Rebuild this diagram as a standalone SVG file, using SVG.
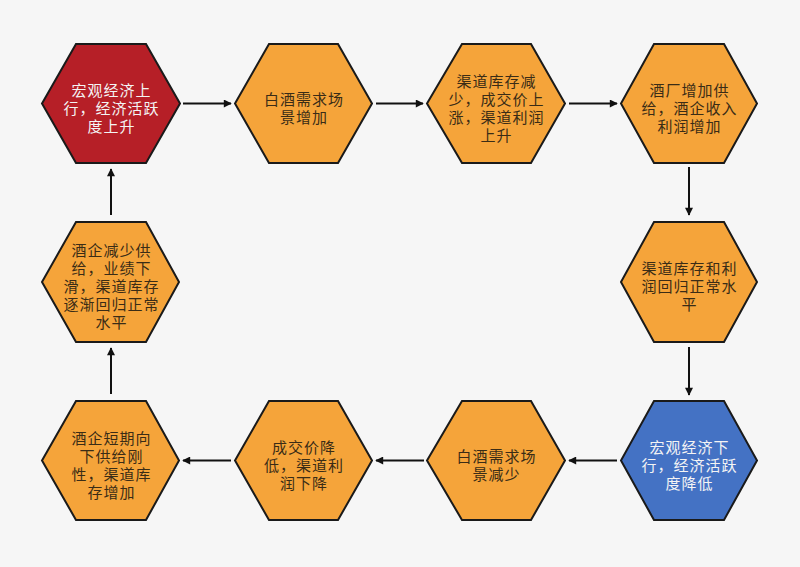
<svg xmlns="http://www.w3.org/2000/svg" width="800" height="567" viewBox="0 0 800 567">
<defs>
<style>
.hex{stroke:#1a1a1a;stroke-width:2;stroke-linejoin:miter}
.or{fill:#F5A43A}
.rd{fill:#B61F27}
.bl{fill:#4472C4}
text{font-family:"Liberation Sans","Noto Sans CJK SC",sans-serif;font-size:15px;letter-spacing:1px;text-anchor:middle;dominant-baseline:central}
.dk{fill:#3a2c16}
.wt{fill:#f4f4f4}
.conn line{stroke:#111;stroke-width:2;marker-end:url(#ah)}
</style>
<marker id="ah" viewBox="0 0 10 10" refX="9" refY="5" markerWidth="4.5" markerHeight="4" orient="auto" markerUnits="strokeWidth">
<path d="M0,0 L10,5 L0,10 z" fill="#111"/>
</marker>
</defs>
<rect width="800" height="567" fill="#F6F6F6"/>
<g class="conn">
<line x1="183" y1="103.5" x2="231" y2="103.5"/>
<line x1="376" y1="103.5" x2="423" y2="103.5"/>
<line x1="569" y1="103.5" x2="617" y2="103.5"/>
<line x1="689" y1="167" x2="689" y2="215"/>
<line x1="689" y1="347" x2="689" y2="395"/>
<line x1="617" y1="460.5" x2="569" y2="460.5"/>
<line x1="424" y1="460.5" x2="376" y2="460.5"/>
<line x1="231" y1="460.5" x2="183" y2="460.5"/>
<line x1="111" y1="394" x2="111" y2="348"/>
<line x1="111" y1="215" x2="111" y2="169"/>
</g>
<g id="n1">
<polygon class="hex rd" points="76,44 146,44 180,103.5 146,163 76,163 42,103.5"/>
<text class="wt" y="89.5"><tspan x="111.5">宏观经济上</tspan><tspan x="111.5" dy="18">行，经济活跃</tspan><tspan x="111.5" dy="18">度上升</tspan></text>
</g>
<g id="n2">
<polygon class="hex or" points="269,44 338,44 372,103.5 338,163 269,163 235,103.5"/>
<text class="dk" y="98.5"><tspan x="304">白酒需求场</tspan><tspan x="304" dy="18">景增加</tspan></text>
</g>
<g id="n3">
<polygon class="hex or" points="462,44 531,44 565,103.5 531,163 462,163 427,103.5"/>
<text class="dk" y="80.5"><tspan x="496.5">渠道库存减</tspan><tspan x="496.5" dy="18">少，成交价上</tspan><tspan x="496.5" dy="18">涨，渠道利润</tspan><tspan x="496.5" dy="18">上升</tspan></text>
</g>
<g id="n4">
<polygon class="hex or" points="654,44 724,44 757,103.5 724,163 654,163 621,103.5"/>
<text class="dk" y="89.5"><tspan x="689.5">酒厂增加供</tspan><tspan x="689.5" dy="18">给，酒企收入</tspan><tspan x="689.5" dy="18">利润增加</tspan></text>
</g>
<g id="n5">
<polygon class="hex or" points="654,222 724,222 757,282 724,342 654,342 621,282"/>
<text class="dk" y="268"><tspan x="689.5">渠道库存和利</tspan><tspan x="689.5" dy="18">润回归正常水</tspan><tspan x="689.5" dy="18">平</tspan></text>
</g>
<g id="n6">
<polygon class="hex bl" points="654,401 724,401 757,460.5 724,520 654,520 621,460.5"/>
<text class="wt" y="446.5"><tspan x="689.5">宏观经济下</tspan><tspan x="689.5" dy="18">行，经济活跃</tspan><tspan x="689.5" dy="18">度降低</tspan></text>
</g>
<g id="n7">
<polygon class="hex or" points="462,401 531,401 565,460.5 531,520 462,520 427,460.5"/>
<text class="dk" y="455.5"><tspan x="496.5">白酒需求场</tspan><tspan x="496.5" dy="18">景减少</tspan></text>
</g>
<g id="n8">
<polygon class="hex or" points="269,401 338,401 372,460.5 338,520 269,520 235,460.5"/>
<text class="dk" y="446.5"><tspan x="304">成交价降</tspan><tspan x="304" dy="18">低，渠道利</tspan><tspan x="304" dy="18">润下降</tspan></text>
</g>
<g id="n9">
<polygon class="hex or" points="76,401 146,401 179,460.5 146,520 76,520 42,460.5"/>
<text class="dk" y="437.5"><tspan x="111.5">酒企短期向</tspan><tspan x="111.5" dy="18">下供给刚</tspan><tspan x="111.5" dy="18">性，渠道库</tspan><tspan x="111.5" dy="18">存增加</tspan></text>
</g>
<g id="n10">
<polygon class="hex or" points="76,222 146,222 179,282 146,342 76,342 42,282"/>
<text class="dk" y="250"><tspan x="111.5">酒企减少供</tspan><tspan x="111.5" dy="18">给，业绩下</tspan><tspan x="111.5" dy="18">滑，渠道库存</tspan><tspan x="111.5" dy="18">逐渐回归正常</tspan><tspan x="111.5" dy="18">水平</tspan></text>
</g>
</svg>
